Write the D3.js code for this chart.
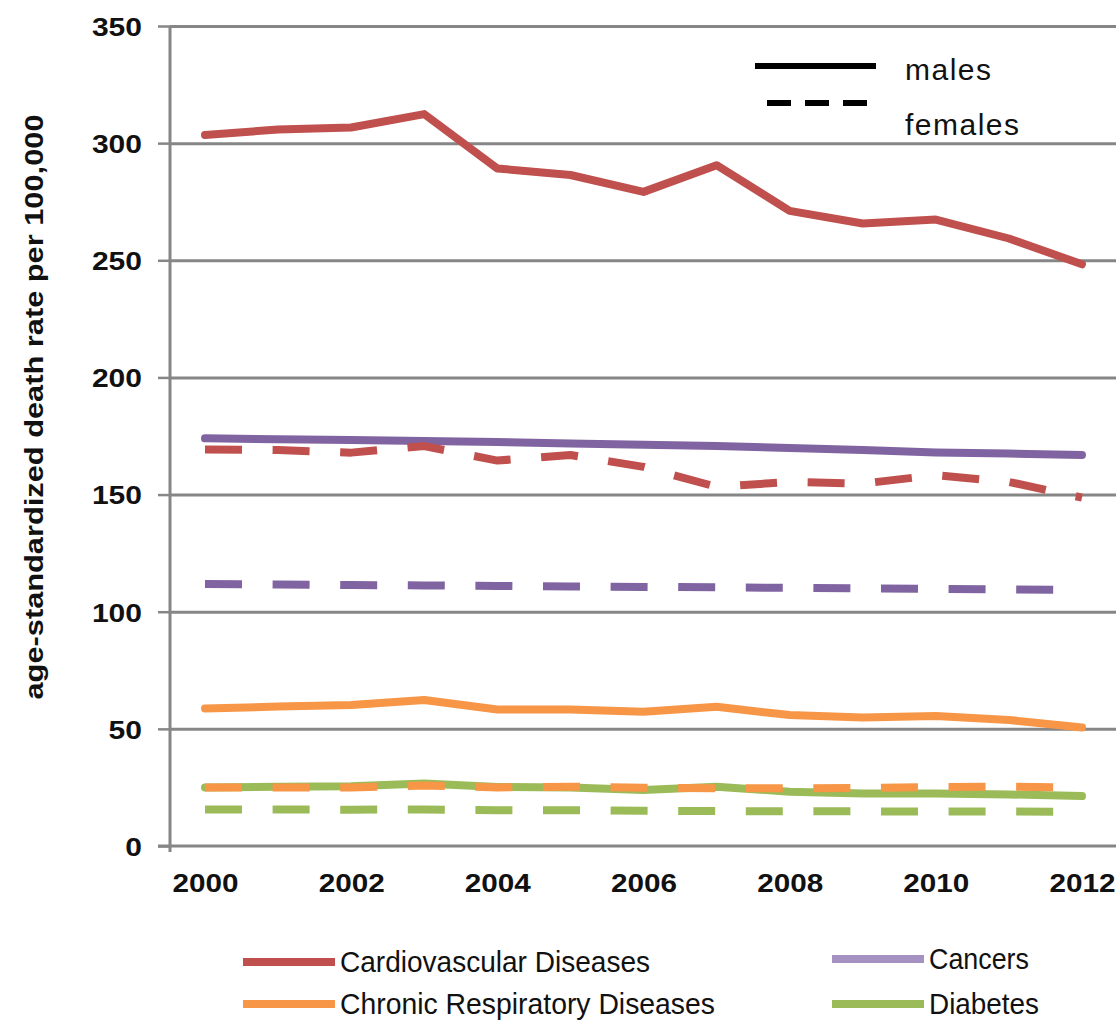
<!DOCTYPE html>
<html>
<head>
<meta charset="utf-8">
<script src="https://cdn.jsdelivr.net/npm/d3@7"></script>
<style>
  body { margin: 0; background: #fff; }
  text { font-family: "Liberation Sans", Arial, sans-serif; fill: #111; }
</style>
</head>
<body>
<div id="chart"></div>
<script>
// years on the x axis
var years = [2000, 2001, 2002, 2003, 2004, 2005, 2006, 2007, 2008, 2009, 2010, 2011, 2012];
var yearLabels = [2000, 2002, 2004, 2006, 2008, 2010, 2012];
var yTicks = [0, 50, 100, 150, 200, 250, 300, 350];

// age-standardized death rates per 100,000
var cvdMales      = [303.5, 305.8, 306.7, 312.4, 289.2, 286.4, 279.2, 290.6, 271.1, 265.7, 267.4, 259.3, 248.3];
var cvdFemales    = [169.2, 169.0, 167.9, 170.7, 164.5, 166.9, 161.8, 153.3, 155.4, 154.7, 158.3, 155.4, 148.7];
var cancerMales   = [174.0, 173.6, 173.3, 172.9, 172.4, 171.8, 171.3, 170.7, 169.9, 169.0, 168.0, 167.5, 166.9];
var cancerFemales = [111.8, 111.6, 111.4, 111.2, 111.0, 110.8, 110.6, 110.4, 110.2, 110.0, 109.7, 109.5, 109.3];
var crdMales      = [58.7, 59.5, 60.2, 62.3, 58.3, 58.3, 57.3, 59.4, 55.9, 54.8, 55.5, 53.8, 50.6];
var crdFemales    = [25.0, 25.0, 25.0, 25.8, 25.0, 25.3, 24.9, 24.6, 24.6, 24.8, 25.2, 25.3, 25.0];
var diabMales     = [25.0, 25.3, 25.5, 26.7, 25.2, 25.0, 23.9, 25.3, 23.2, 22.4, 22.4, 22.0, 21.3];
var diabFemales   = [15.6, 15.6, 15.5, 15.6, 15.3, 15.3, 15.0, 14.9, 14.8, 14.8, 14.7, 14.7, 14.6];

var diseases = ["Cardiovascular Diseases", "Cancers", "Chronic Respiratory Diseases", "Diabetes"];
var colors = ["#C0504D", "#8064A2", "#F79646", "#9BBB59"];

function init() {
    const w = 1116;
    const h = 1022;

    var svg = d3.select("#chart")
        .append("svg")
        .attr("width", w)
        .attr("height", h);

    var x = d3.scalePoint()
        .domain(years)
        .range([205, 1082]);

    var y = d3.scaleLinear()
        .domain([0, 350])
        .range([846, 26]);

    // gridlines
    svg.append("g")
        .attr("transform", "translate(170,0)")
        .call(d3.axisLeft(y).tickValues(yTicks.slice(1)).tickSize(-(w - 170)).tickFormat(""))
        .call(g => g.select(".domain").remove())
        .selectAll("line")
        .attr("stroke", "#868686")
        .attr("stroke-width", 3);

    // x axis line
    svg.append("line")
        .attr("x1", 158).attr("x2", w)
        .attr("y1", y(0)).attr("y2", y(0))
        .attr("stroke", "#868686").attr("stroke-width", 3);

    // y axis
    var yAxis = svg.append("g")
        .attr("transform", "translate(170,0)")
        .call(d3.axisLeft(y).tickValues(yTicks).tickSize(12).tickPadding(16));
    yAxis.select(".domain")
        .attr("d", "M0," + y(350) + "V" + (y(0) + 6))
        .attr("stroke", "#868686").attr("stroke-width", 3);
    yAxis.selectAll(".tick line").attr("stroke", "#868686").attr("stroke-width", 2.5);
    yAxis.selectAll("text")
        .style("font-size", "26px")
        .style("font-weight", "bold")
        .attr("fill", "#111")
        .attr("dy", "0.36em")
        .attr("textLength", function (d) { return String(d).length * 16.7; })
        .attr("lengthAdjust", "spacingAndGlyphs");

    // x axis labels
    var xAxis = svg.append("g")
        .attr("transform", "translate(0," + y(0) + ")")
        .call(d3.axisBottom(x).tickValues(yearLabels).tickSize(0).tickPadding(28));
    xAxis.select(".domain").remove();
    xAxis.selectAll("text")
        .style("font-size", "26px")
        .style("font-weight", "bold")
        .attr("fill", "#111")
        .attr("textLength", 66)
        .attr("lengthAdjust", "spacingAndGlyphs");

    // y title
    svg.append("text")
        .attr("transform", "translate(43,407) rotate(-90)")
        .attr("text-anchor", "middle")
        .style("font-size", "26px")
        .style("font-weight", "bold")
        .attr("textLength", 585)
        .attr("lengthAdjust", "spacingAndGlyphs")
        .text("age-standardized death rate per 100,000");

    var line = d3.line()
        .x(function (d, i) { return x(years[i]); })
        .y(function (d) { return y(d); });

    var series = [
        { v: cvdMales, c: 0, dash: false },
        { v: cancerMales, c: 1, dash: false },
        { v: cvdFemales, c: 0, dash: true },
        { v: cancerFemales, c: 1, dash: true },
        { v: crdMales, c: 2, dash: false },
        { v: diabMales, c: 3, dash: false },
        { v: crdFemales, c: 2, dash: true },
        { v: diabFemales, c: 3, dash: true }
    ];

    svg.selectAll("path.series")
        .data(series)
        .enter()
        .append("path")
        .attr("class", "series")
        .attr("fill", "none")
        .attr("stroke", function (d) { return colors[d.c]; })
        .attr("stroke-width", 8)
        .attr("stroke-linejoin", "round")
        .attr("stroke-linecap", function (d) { return d.dash ? "butt" : "round"; })
        .attr("stroke-dasharray", function (d) { return d.dash ? "37,30.6" : null; })
        .attr("d", function (d) { return line(d.v); });

    // sex legend (top right)
    svg.append("line")
        .attr("x1", 755).attr("x2", 876).attr("y1", 66).attr("y2", 66)
        .attr("stroke", "#000").attr("stroke-width", 6);
    svg.append("line")
        .attr("x1", 767).attr("x2", 870).attr("y1", 103).attr("y2", 103)
        .attr("stroke", "#000").attr("stroke-width", 6)
        .attr("stroke-dasharray", "24,14");
    svg.append("text")
        .attr("x", 905).attr("y", 80)
        .style("font-size", "30px")
        .attr("textLength", 86)
        .text("males");
    svg.append("text")
        .attr("x", 905).attr("y", 135)
        .style("font-size", "30px")
        .attr("textLength", 114)
        .text("females");

    // disease legend (bottom)
    var legendPos = [[243, 962, 310], [832, 959, 100], [243, 1004, 375], [832, 1004, 110]];
    var legendLineColors = ["#C0504D", "#A592C0", "#F79646", "#9BBB59"];
    var leg = svg.selectAll("g.legend")
        .data(diseases)
        .enter()
        .append("g")
        .attr("class", "legend")
        .attr("transform", function (d, i) {
            return "translate(" + legendPos[i][0] + "," + legendPos[i][1] + ")";
        });
    leg.append("line")
        .attr("x1", 0).attr("x2", 92)
        .attr("stroke", function (d, i) { return legendLineColors[i]; })
        .attr("stroke-width", 8);
    leg.append("text")
        .attr("x", 97)
        .attr("dy", "0.34em")
        .style("font-size", "29px")
        .attr("textLength", function (d, i) { return legendPos[i][2]; })
        .attr("lengthAdjust", "spacingAndGlyphs")
        .text(function (d) { return d; });
}
window.onload = init();
</script>
</body>
</html>
